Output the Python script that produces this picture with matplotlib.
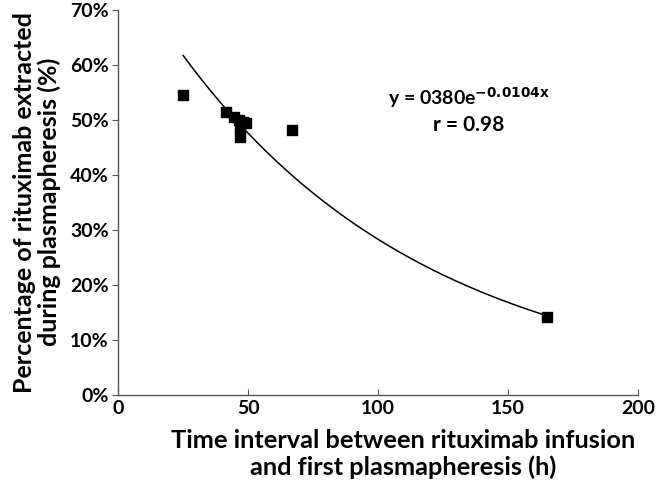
import numpy as np
import matplotlib.pyplot as plt
from matplotlib.ticker import PercentFormatter

plt.rcParams['font.family'] = ['Lato', 'DejaVu Sans']

# measured points (time in h, fraction extracted)
hours = [25, 41.5, 44.5, 48, 47, 46.5, 47, 49, 67, 165]
extracted = [0.545, 0.515, 0.505, 0.496, 0.485, 0.50, 0.469, 0.495, 0.482, 0.142]

# exponential fit y = a*exp(b*x)
fit_a = 0.80
fit_b = -0.0104
fit_start, fit_end = 25, 163

fig = plt.figure(figsize=(6.64, 4.9), dpi=100)
ax = fig.add_axes([0.178, 0.194, 0.783, 0.786])

xs = np.linspace(fit_start, fit_end, 200)
ax.plot(xs, fit_a * np.exp(fit_b * xs), color='black', lw=1.1)
ax.scatter(hours, extracted, marker='s', s=55, color='black', zorder=3)

ax.set_xlim(0, 200)
ax.set_ylim(0, 0.70)
ax.set_xticks([0, 50, 100, 150, 200])
ax.set_yticks(np.arange(0, 0.71, 0.1))
ax.yaxis.set_major_formatter(PercentFormatter(1.0, decimals=0))

for s in ['top', 'right']:
    ax.spines[s].set_visible(False)
for s in ['left', 'bottom']:
    ax.spines[s].set_color('#555555')
    ax.spines[s].set_linewidth(1.0)
ax.tick_params(axis='y', direction='out', length=4, color='#555555',
               labelsize=14, pad=3)
ax.tick_params(axis='x', direction='in', length=4, color='#555555',
               labelsize=14, pad=4)
for lab in ax.get_xticklabels() + ax.get_yticklabels():
    lab.set_fontweight('bold')

ax.set_xlabel('Time interval between rituximab infusion\nand first plasmapheresis (h)',
              fontsize=18.3, fontweight='bold', linespacing=1.2)
ax.xaxis.set_label_coords(0.548, -0.088, transform=ax.transAxes)
ax.xaxis.label.set_va('top')
ax.set_ylabel('Percentage of rituximab extracted\nduring plasmapheresis (%)',
              fontsize=18, fontweight='bold', labelpad=6, linespacing=1.1)

ax.text(135, 0.54, r'y = 0380e$^{\mathbf{-0.0104x}}$', ha='center', va='center',
        fontsize=14, fontweight='bold')
ax.text(135, 0.49, 'r = 0.98', ha='center', va='center',
        fontsize=15, fontweight='bold')

fig.savefig('out.png', dpi=100)
